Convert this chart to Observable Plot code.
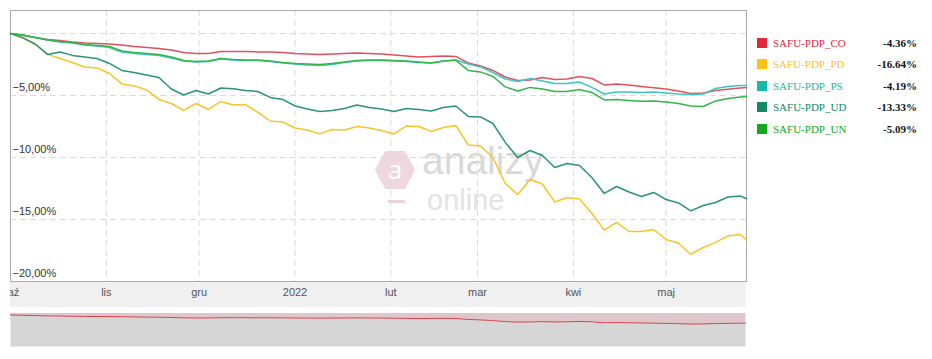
<!DOCTYPE html>
<html>
<head>
<meta charset="utf-8">
<script src="https://cdn.jsdelivr.net/npm/d3@7"></script>
<script src="https://cdn.jsdelivr.net/npm/@observablehq/plot@0.6"></script>
<style>
  body { margin: 0; background: #fff; }
  #wrap { position: relative; width: 932px; height: 359px; overflow: hidden; font-family: "Liberation Sans", Arial, sans-serif; }
  .abs { position: absolute; }
  .leg-name { font-family: "Liberation Serif", "Times New Roman", serif; font-size: 11px; line-height: 12px; white-space: nowrap; }
  .leg-val { font-family: "Liberation Serif", "Times New Roman", serif; font-size: 11px; line-height: 12px; font-weight: bold; color: #111; text-align: right; white-space: nowrap; }
</style>
</head>
<body>
<div id="wrap">
  <div class="abs" style="left:10px;top:282px;width:736px;height:25px;background:#f0f0f0"></div>
  <div id="wm"></div>
  <div id="main" class="abs" style="left:0;top:0"></div>
  <div class="abs" style="left:0;top:282px;width:10px;height:26px;background:#fff"></div>
  <div id="nav" class="abs" style="left:0;top:311px"></div>
  <div id="legend"></div>
</div>
<script>
const dates = [
  "2021-10-01","2021-10-05","2021-10-09","2021-10-13","2021-10-17","2021-10-21","2021-10-25","2021-10-29","2021-11-02","2021-11-06",
  "2021-11-10","2021-11-14","2021-11-18","2021-11-22","2021-11-26","2021-11-30","2021-12-04","2021-12-08","2021-12-12","2021-12-16",
  "2021-12-20","2021-12-24","2021-12-28","2022-01-01","2022-01-05","2022-01-09","2022-01-13","2022-01-17","2022-01-21","2022-01-25",
  "2022-01-29","2022-02-02","2022-02-06","2022-02-10","2022-02-14","2022-02-18","2022-02-22","2022-02-26","2022-03-02","2022-03-06",
  "2022-03-10","2022-03-14","2022-03-18","2022-03-22","2022-03-26","2022-03-30","2022-04-03","2022-04-07","2022-04-11","2022-04-15",
  "2022-04-19","2022-04-23","2022-04-27","2022-05-01","2022-05-05","2022-05-09","2022-05-13","2022-05-17","2022-05-21","2022-05-25",
  "2022-05-27"
];
const CO = [
  0,-0.16,-0.32,-0.48,-0.56,-0.69,-0.77,-0.81,-0.85,-0.93,
  -1.05,-1.13,-1.21,-1.33,-1.53,-1.61,-1.61,-1.45,-1.45,-1.45,
  -1.49,-1.49,-1.53,-1.61,-1.65,-1.69,-1.65,-1.61,-1.57,-1.61,
  -1.65,-1.73,-1.81,-1.90,-1.85,-1.81,-1.85,-2.38,-2.62,-2.98,
  -3.51,-3.79,-3.75,-3.55,-3.71,-3.67,-3.47,-3.63,-4.15,-4.07,
  -4.15,-4.27,-4.38,-4.48,-4.64,-4.84,-4.80,-4.60,-4.49,-4.40,
  -4.36
];
const PD = [
  0,-0.32,-0.89,-1.69,-2.02,-2.34,-2.70,-2.78,-3.23,-4.07,
  -4.23,-4.56,-5.32,-5.65,-6.21,-5.65,-6.13,-5.48,-5.77,-5.73,
  -6.37,-7.06,-7.14,-7.62,-7.78,-8.10,-7.74,-7.78,-7.50,-7.62,
  -7.82,-8.10,-7.46,-7.50,-7.90,-7.58,-7.42,-8.99,-9.07,-10.00,
  -12.10,-12.98,-11.77,-12.14,-13.59,-13.23,-13.35,-14.52,-15.85,-15.24,
  -15.97,-15.97,-15.81,-16.61,-16.90,-17.82,-17.26,-16.85,-16.33,-16.21,
  -16.64
];
const PS = [
  0,-0.12,-0.32,-0.52,-0.69,-0.77,-0.93,-1.01,-1.13,-1.49,
  -1.61,-1.69,-1.77,-1.98,-2.22,-2.30,-2.26,-2.06,-2.14,-2.18,
  -2.18,-2.26,-2.38,-2.46,-2.54,-2.58,-2.50,-2.34,-2.22,-2.18,
  -2.18,-2.22,-2.26,-2.34,-2.38,-2.22,-2.14,-2.46,-2.70,-3.15,
  -3.67,-3.87,-3.63,-3.83,-4.03,-4.03,-3.91,-4.35,-4.88,-4.72,
  -4.73,-4.76,-4.72,-4.80,-4.88,-4.92,-4.88,-4.44,-4.27,-4.19,
  -4.19
];
const UD = [
  0,-0.36,-0.85,-1.69,-1.49,-1.77,-1.90,-2.02,-2.42,-2.98,
  -3.15,-3.35,-3.55,-4.48,-4.96,-4.60,-4.88,-4.40,-4.46,-4.60,
  -4.68,-5.16,-5.32,-5.85,-6.09,-6.29,-6.21,-6.05,-5.77,-5.97,
  -6.09,-6.29,-6.05,-6.13,-6.25,-5.97,-5.85,-6.69,-6.73,-7.26,
  -8.79,-10.00,-9.44,-9.84,-10.81,-10.48,-10.65,-11.61,-12.90,-12.34,
  -12.78,-13.15,-12.82,-13.39,-13.67,-14.31,-13.87,-13.63,-13.19,-13.10,
  -13.33
];
const UN = [
  0,-0.12,-0.32,-0.52,-0.65,-0.73,-0.89,-0.97,-1.05,-1.41,
  -1.53,-1.61,-1.69,-1.90,-2.18,-2.26,-2.22,-2.02,-2.10,-2.14,
  -2.14,-2.22,-2.34,-2.42,-2.46,-2.50,-2.42,-2.30,-2.18,-2.14,
  -2.14,-2.18,-2.22,-2.30,-2.38,-2.22,-2.16,-2.98,-3.10,-3.47,
  -4.31,-4.64,-4.35,-4.48,-4.68,-4.68,-4.52,-4.76,-5.36,-5.32,
  -5.40,-5.46,-5.44,-5.52,-5.65,-5.85,-5.89,-5.44,-5.24,-5.12,
  -5.09
];
const seriesNames = ["SAFU-PDP_CO","SAFU-PDP_PD","SAFU-PDP_PS","SAFU-PDP_UD","SAFU-PDP_UN"];
const seriesValues = [CO, PD, PS, UD, UN];
const lineColors = ["#e2505f","#f6c626","#3cc6c0","#2b9478","#33b548"];
const legendColors = ["#e3283c","#ffc20e","#14b9a8","#128a66","#12a820"];
const monthTicks = ["2021-10-01","2021-11-01","2021-12-01","2022-01-01","2022-02-01","2022-03-01","2022-04-01","2022-05-01"];
const monthLabels = ["paź","lis","gru","2022","lut","mar","kwi","maj"];
const yTicks = [0,-5,-10,-15,-20];

const xDomain = [new Date(dates[0]), new Date(dates[dates.length - 1])];
const rows = seriesNames.flatMap((name, i) =>
  seriesValues[i].map((v, j) => ({date: new Date(dates[j]), value: v, series: name}))
);
const fmtPct = d => d3.format(".2f")(d).replace(".", ",") + "%";

const main = Plot.plot({
  width: 750, height: 310,
  marginLeft: 10, marginRight: 4, marginTop: 10, marginBottom: 29,
  style: {background: "transparent", fontFamily: "Liberation Sans, Arial, sans-serif", fontSize: "11px", overflow: "visible"},
  x: {type: "utc", domain: xDomain, axis: null},
  y: {domain: [-20, 1.85], axis: null},
  color: {domain: seriesNames, range: lineColors},
  marks: [
    Plot.ruleY(yTicks, {stroke: "#dadada", strokeDasharray: "6,4"}),
    Plot.ruleX(monthTicks.map(d => new Date(d)), {stroke: "#dadada", strokeDasharray: "6,4"}),
    Plot.frame({stroke: "#aaaaaa"}),
    Plot.line(rows, {x: "date", y: "value", z: "series", stroke: "series", strokeWidth: 1.5}),
    Plot.text(yTicks.filter(d => d < 0), {y: d => d, frameAnchor: "left", textAnchor: "start", dx: 2, dy: -8, text: fmtPct, fill: "#333", fontSize: 11}),
    Plot.text(monthTicks, {x: d => new Date(d), frameAnchor: "bottom", dy: 14, text: (d, i) => monthLabels[i], fill: "#555", fontSize: 11})
  ]
});
document.getElementById("main").appendChild(main);

const navRows = CO.map((v, j) => ({date: new Date(dates[j]), value: v}));
const nav = Plot.plot({
  width: 750, height: 36,
  marginLeft: 10, marginRight: 5, marginTop: 2, marginBottom: 1,
  style: {background: "transparent"},
  x: {type: "utc", domain: xDomain, axis: null},
  y: {domain: [-16.9, 0.8], axis: null},
  marks: [
    Plot.frame({fill: "#d6d6d6", stroke: null}),
    Plot.areaY(navRows, {x: "date", y1: 0.8, y2: "value", fill: "#dfc6ca"}),
    Plot.line(navRows, {x: "date", y: "value", stroke: "#d9434f", strokeWidth: 1})
  ]
});
document.getElementById("nav").appendChild(nav);

// legend
const legend = document.getElementById("legend");
seriesNames.forEach((name, i) => {
  const top = 38 + i * 21.4;
  const last = seriesValues[i][seriesValues[i].length - 1];
  const sq = document.createElement("div");
  sq.className = "abs";
  sq.style.cssText = `left:757px;top:${top}px;width:10px;height:10px;background:${legendColors[i]}`;
  legend.appendChild(sq);
  const nm = document.createElement("div");
  nm.className = "abs leg-name";
  nm.style.cssText = `left:773px;top:${top - 1}px;color:${legendColors[i]}`;
  nm.textContent = name;
  legend.appendChild(nm);
  const vl = document.createElement("div");
  vl.className = "abs leg-val";
  vl.style.cssText = `right:${932 - 917}px;top:${top - 1}px`;
  vl.textContent = last.toFixed(2) + "%";
  legend.appendChild(vl);
});

// watermark
document.getElementById("wm").innerHTML = `
  <svg class="abs" style="left:370px;top:120px;overflow:visible" width="200" height="110">
    <polygon points="15,31 35,31 45,50 35,69 15,69 5,50" fill="#eed7de"/>
    <text x="25" y="59" text-anchor="middle" font-family="Open Sans, sans-serif" font-size="26" fill="#fff">a</text>
    <rect x="18" y="80" width="17" height="3" fill="#eed0d8"/>
    <text x="52" y="54" font-family="Liberation Sans, Arial, sans-serif" font-size="39" fill="#d9d9d9">analizy</text>
    <text x="57" y="89.5" font-family="Liberation Sans, Arial, sans-serif" font-size="29" fill="#e3e3e3">online</text>
  </svg>
`;
</script>
</body>
</html>
